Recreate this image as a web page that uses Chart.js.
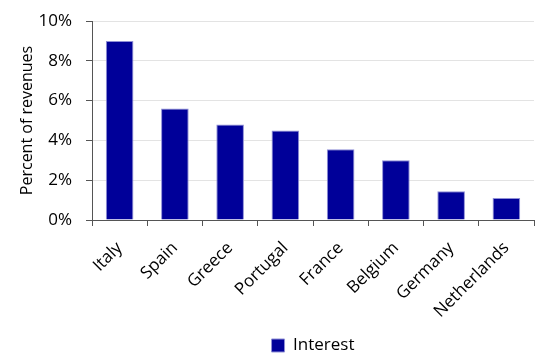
<!DOCTYPE html>
<html lang="en">
<head>
    <meta charset="UTF-8" />
    <title>Interest</title>
    <script src="https://cdn.jsdelivr.net/npm/chart.js"></script>
    <style>
        html, body { margin: 0; padding: 0; background: #fff; }
        #wrap { width: 542px; height: 354px; }
    </style>
</head>
<body>
    <div id="wrap"><canvas id="chart"></canvas></div>
    <script>
        var countries = ["Italy", "Spain", "Greece", "Portugal", "France", "Belgium", "Germany", "Netherlands"];
        var interest = [9.0, 5.6, 4.8, 4.5, 3.55, 3.0, 1.45, 1.1];
        var yTicks = [0, 2, 4, 6, 8, 10];

        var font = "'Open Sans', 'Noto Sans', sans-serif";

        var ctx = document.getElementById("chart").getContext("2d");
        var myChart = new Chart(ctx, {
            type: "bar",
            data: {
                labels: countries,
                datasets: [{
                    label: "Interest",
                    data: interest,
                    backgroundColor: "#000099",
                    borderColor: "#8f8fd6",
                    borderWidth: 1,
                    barPercentage: 0.5,
                    categoryPercentage: 1.0
                }]
            },
            options: {
                responsive: true,
                maintainAspectRatio: false,
                animation: false,
                layout: { padding: { top: 21, right: 8, left: 14, bottom: -10 } },
                plugins: {
                    tooltip: { enabled: false },
                    legend: {
                        position: "bottom",
                        fullSize: false,
                        labels: {
                            boxWidth: 13,
                            boxHeight: 13,
                            padding: 3,
                            color: "#000",
                            font: { family: font, size: 17 }
                        }
                    }
                },
                scales: {
                    x: {
                        afterFit: function (axis) { axis.height = 114; },
                        grid: {
                            offset: true,
                            drawOnChartArea: false,
                            tickLength: 6,
                            color: "#555"
                        },
                        border: { color: "#555", width: 1 },
                        ticks: {
                            minRotation: 45,
                            maxRotation: 45,
                            padding: 12,
                            color: "#000",
                            font: { family: font, size: 17 }
                        }
                    },
                    y: {
                        min: 0,
                        max: 10,
                        afterFit: function (axis) {
                            axis.width = 78;
                            axis.paddingTop = 0;
                        },
                        afterBuildTicks: function (axis) {
                            axis.ticks = yTicks.map(function (v) { return { value: v }; });
                        },
                        grid: {
                            color: "#e3e3e3",
                            tickColor: "#555",
                            tickLength: 6
                        },
                        border: { color: "#555", width: 1 },
                        ticks: {
                            color: "#000",
                            padding: 14,
                            font: { family: font, size: 17 },
                            callback: function (v) { return v + "%"; }
                        },
                        title: {
                            display: true,
                            text: "Percent of revenues",
                            color: "#000",
                            font: { family: font, size: 16 }
                        }
                    }
                }
            }
        });
    </script>
</body>
</html>
